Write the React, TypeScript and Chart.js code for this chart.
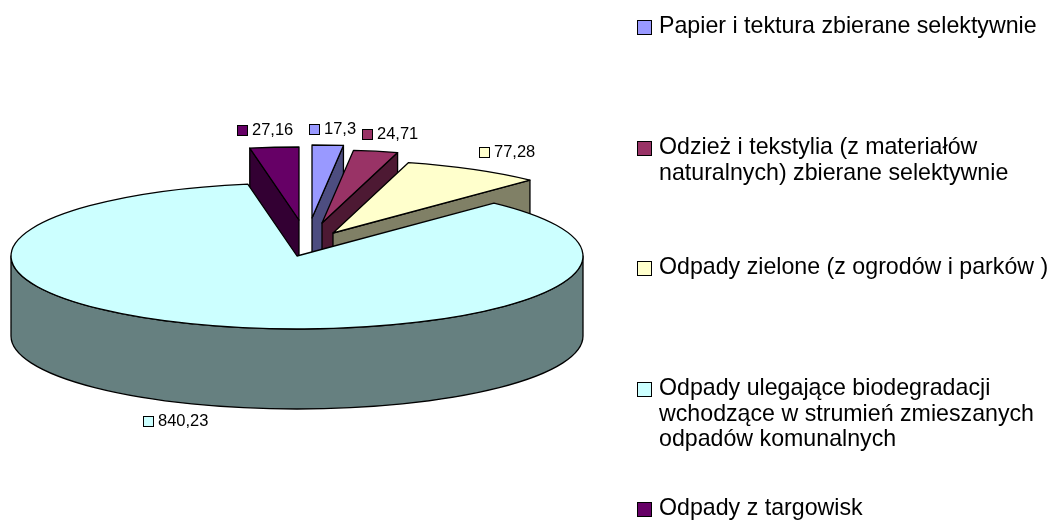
import React, { useEffect, useRef } from "react";
import { Chart, registerables } from "chart.js";

Chart.register(...registerables);

const categories: string[][] = [
  ["Papier i tektura zbierane selektywnie"],
  ["Odzież i tekstylia (z materiałów", "naturalnych) zbierane selektywnie"],
  ["Odpady zielone (z ogrodów i parków )"],
  ["Odpady ulegające biodegradacji", "wchodzące w strumień zmieszanych", "odpadów komunalnych"],
  ["Odpady z targowisk"],
];
const values = [17.3, 24.71, 77.28, 840.23, 27.16];
const valueLabels = ["17,3", "24,71", "77,28", "840,23", "27,16"];
const topColors = ["#9999FF", "#993366", "#FFFFCC", "#CCFFFF", "#660066"];
const sideColors = ["#4D4D80", "#4D1933", "#808066", "#668080", "#330033"];

// Layout of the drawing, not data
const explodeX = [15, 25, 36, 0, 2];
const explodeY = [-38, -33, -23, 0, -36];
const DEPTH = 80;
const valueKeyX = [309, 362, 479, 143, 237];
const valueKeyY = [129, 134, 152, 421, 130];
const legendKeyY = [27, 148, 268, 389, 509];
const LEGEND_LINE = 25.5;

const pie3d = {
  id: "pie3d",
  beforeDatasetDraw(chart: any) {
    const { ctx, chartArea } = chart;
    const arcs = chart.getDatasetMeta(0).data;
    const stretch = chartArea.width / chartArea.height;
    const order = arcs.map((_: any, i: number) => i).sort((a: number, b: number) => explodeY[a] - explodeY[b]);
    ctx.save();
    ctx.lineWidth = 1.3;
    ctx.lineJoin = "round";
    ctx.strokeStyle = "#000";
    for (const i of order) {
      const arc = arcs[i];
      const ry = arc.outerRadius;
      const rx = ry * stretch;
      const cx = arc.x + explodeX[i];
      const cy = arc.y + explodeY[i];
      const a = arc.startAngle;
      const b = arc.endAngle;
      const face = () => {
        ctx.fillStyle = sideColors[i];
        ctx.fill();
        ctx.stroke();
      };
      const radialWall = (phi: number) => {
        ctx.beginPath();
        ctx.moveTo(cx, cy);
        ctx.lineTo(cx + rx * Math.cos(phi), cy + ry * Math.sin(phi));
        ctx.lineTo(cx + rx * Math.cos(phi), cy + ry * Math.sin(phi) + DEPTH);
        ctx.lineTo(cx, cy + DEPTH);
        ctx.closePath();
        face();
      };
      if (Math.cos(a) < -1e-6) radialWall(a);
      if (Math.cos(b) > 1e-6) radialWall(b);
      const from = Math.max(a, 0);
      const to = Math.min(b, Math.PI);
      if (to > from) {
        ctx.beginPath();
        ctx.ellipse(cx, cy, rx, ry, 0, from, to);
        ctx.ellipse(cx, cy + DEPTH, rx, ry, 0, to, from, true);
        ctx.closePath();
        face();
      }
      ctx.beginPath();
      ctx.moveTo(cx, cy);
      ctx.ellipse(cx, cy, rx, ry, 0, a, b);
      ctx.closePath();
      ctx.fillStyle = topColors[i];
      ctx.fill();
      ctx.stroke();
    }
    ctx.restore();
    return false;
  },
  afterDraw(chart: any) {
    const { ctx } = chart;
    const key = (x: number, y: number, size: number, color: string) => {
      ctx.fillStyle = color;
      ctx.fillRect(x, y, size, size);
      ctx.strokeStyle = "#000";
      ctx.lineWidth = 1;
      ctx.strokeRect(x + 0.5, y + 0.5, size - 1, size - 1);
    };
    ctx.save();
    ctx.textBaseline = "middle";
    ctx.textAlign = "left";
    ctx.fillStyle = "#000";
    valueLabels.forEach((text, i) => {
      key(valueKeyX[i], valueKeyY[i] - 5, 11, topColors[i]);
      ctx.fillStyle = "#000";
      ctx.font = '16.5px "Liberation Sans"';
      ctx.fillText(text, valueKeyX[i] + 15, valueKeyY[i]);
    });
    categories.forEach((lines, i) => {
      key(637, legendKeyY[i] - 7, 15, topColors[i]);
      ctx.fillStyle = "#000";
      ctx.font = '23.2px "Liberation Sans"';
      lines.forEach((line, j) => ctx.fillText(line, 659, legendKeyY[i] + j * LEGEND_LINE));
    });
    ctx.restore();
  },
};

export default function App() {
  const ref = useRef<HTMLCanvasElement>(null);
  useEffect(() => {
    const chart = new Chart(ref.current as HTMLCanvasElement, {
      type: "pie",
      data: {
        labels: categories.map((c) => c.join(" ")),
        datasets: [{ data: values, backgroundColor: topColors, borderColor: "#000", borderWidth: 0 }],
      },
      options: {
        animation: false,
        responsive: false,
        devicePixelRatio: 1,
        layout: { padding: { left: 11, right: 468, top: 183, bottom: 191 } },
        plugins: { legend: { display: false }, tooltip: { enabled: false } },
      },
      plugins: [pie3d],
    } as any);
    return () => chart.destroy();
  }, []);
  return (
    <div style={{ position: "absolute", left: 0, top: 0, width: 1051, height: 520, background: "#fff" }}>
      <canvas ref={ref} width={1051} height={520} style={{ display: "block" }} />
    </div>
  );
}
